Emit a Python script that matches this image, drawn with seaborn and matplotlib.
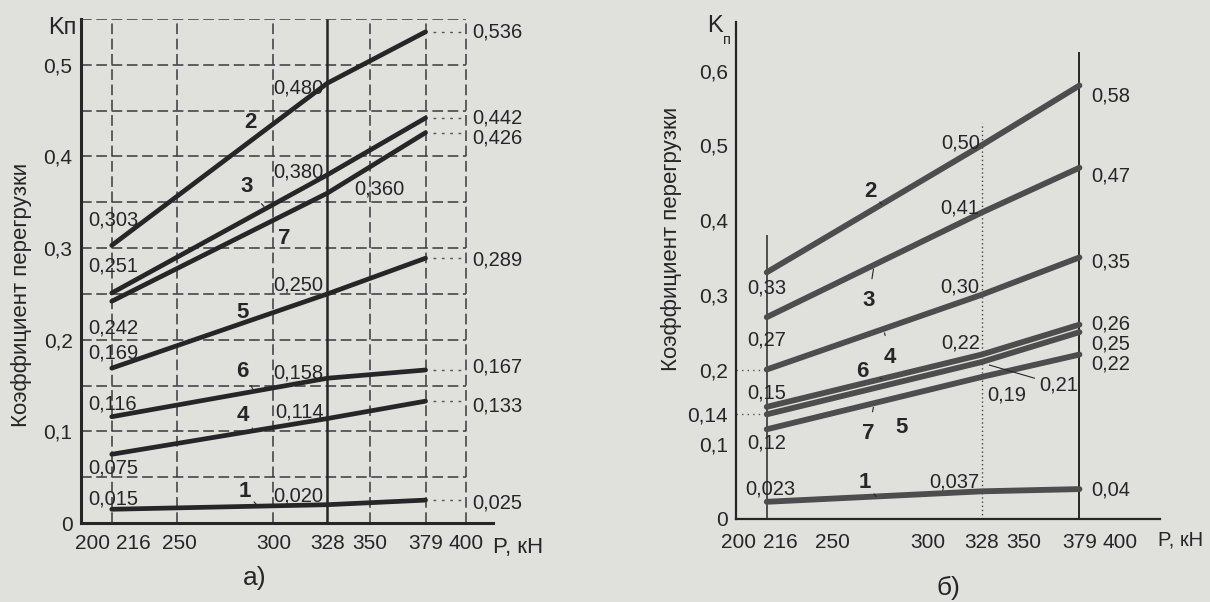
import numpy as np
import pandas as pd
import seaborn as sns
import matplotlib.pyplot as plt
import matplotlib.transforms as mtransforms

# load points along P, kN
p_pts = [216, 328, 379]

# panel a) overload coefficient values, read from the labels
a_curves = ['1', '2', '3', '7', '5', '6', '4']
a_k216 = [0.015, 0.303, 0.251, 0.242, 0.169, 0.116, 0.075]
a_k328 = [0.020, 0.480, 0.380, 0.360, 0.250, 0.158, 0.114]
a_k379 = [0.025, 0.536, 0.442, 0.426, 0.289, 0.167, 0.133]

# panel b)
b_curves = ['1', '2', '3', '4', '6', '5', '7']
b_k216 = [0.023, 0.33, 0.27, 0.20, 0.15, 0.14, 0.12]
b_k328 = [0.037, 0.50, 0.41, 0.30, 0.22, 0.21, 0.19]
b_k379 = [0.04, 0.58, 0.47, 0.35, 0.26, 0.25, 0.22]

x_ticks = [200, 216, 250, 300, 328, 350, 379, 400]
a_yticks = [0, 0.1, 0.2, 0.3, 0.4, 0.5]
b_yticks = [0, 0.1, 0.14, 0.2, 0.3, 0.4, 0.5, 0.6]


def tick_fmt(v):
    return ('%g' % v).replace('.', ',')


def fmt_a(v):
    return ('%.3f' % v).replace('.', ',')


def fmt_b(v):
    s = '%.2f' % v if abs(round(v, 2) - v) < 1e-9 else '%.3f' % v
    return s.replace('.', ',')


def long_df(curves, k1, k2, k3):
    rows = []
    for c, a, b, e in zip(curves, k1, k2, k3):
        for p, k in zip(p_pts, [a, b, e]):
            rows.append({'curve': c, 'P': p, 'K': k})
    return pd.DataFrame(rows)


df_a = long_df(a_curves, a_k216, a_k328, a_k379)
df_b = long_df(b_curves, b_k216, b_k328, b_k379)

sns.set_style('white')
plt.rcParams['font.family'] = ['Liberation Sans', 'DejaVu Sans']
bg = '#e0e0dd'
ink = '#262626'
fs_val = 14.5

fig = plt.figure(figsize=(12.1, 6.02), dpi=100, facecolor=bg)
ax_a = fig.add_axes([0.0669, 0.1312, 0.3405, 0.8372])
ax_b = fig.add_axes([0.6083, 0.1379, 0.3504, 0.8256])
for ax in (ax_a, ax_b):
    ax.set_facecolor(bg)
    for s in ('top', 'right'):
        ax.spines[s].set_visible(False)
    ax.spines['left'].set_color(ink)
    ax.spines['bottom'].set_color(ink)


def shift_xlabels(ax, shifts):
    # move crowded tick labels sideways (pixels)
    for lab, dx in zip(ax.get_xticklabels(), shifts):
        if dx:
            off = mtransforms.ScaledTranslation(dx / 100, 0, fig.dpi_scale_trans)
            lab.set_transform(lab.get_transform() + off)


# ---------- panel a ----------
ax_a.set_xlim(200, 414)
ax_a.set_ylim(0, 0.55)
grid_kw = dict(colors='#3a3a3a', linewidth=1.1, linestyles=(0, (7, 3)))
ax_a.hlines(np.arange(0.05, 0.551, 0.05), 200, 400, **grid_kw)
ax_a.vlines([216, 250, 300, 350, 379, 400], 0, 0.55, **grid_kw)
ax_a.vlines([328], 0, 0.55, colors=ink, linewidth=1.8)
ax_a.spines['left'].set_linewidth(2.2)
ax_a.spines['bottom'].set_linewidth(2.2)

sns.lineplot(data=df_a, x='P', y='K', units='curve', estimator=None,
             color=ink, linewidth=3.4, ax=ax_a, legend=False)
ax_a.hlines(a_k379, 383, 400, colors='#555555', linewidth=1, linestyles=(0, (2, 4)))

ax_a.set_xticks(x_ticks)
ax_a.set_xticklabels([str(t) for t in x_ticks])
ax_a.set_yticks(a_yticks)
ax_a.set_yticklabels([tick_fmt(t) for t in a_yticks])
ax_a.tick_params(length=0, labelsize=15, colors=ink)
ax_a.tick_params(axis='x', pad=8)
ax_a.tick_params(axis='y', pad=6)
ax_a.set_xlabel('')
ax_a.set_ylabel('')
shift_xlabels(ax_a, [12, 22, 2, 0, 0, 0, 0, 0])

a_left_y = [0.026, 0.331, 0.281, 0.213, 0.186, 0.130, 0.060]
a_mid_y = [0.029, 0.475, 0.383, 0.364, 0.260, 0.164, 0.121]
a_right_y = [0.022, 0.536, 0.442, 0.420, 0.287, 0.170, 0.128]
for i, c in enumerate(a_curves):
    ax_a.text(204, a_left_y[i], fmt_a(a_k216[i]), fontsize=fs_val, color=ink, va='center')
    if c == '7':
        ax_a.text(342, a_mid_y[i], fmt_a(a_k328[i]), fontsize=fs_val, color=ink, va='center')
    else:
        ax_a.text(326, a_mid_y[i], fmt_a(a_k328[i]), fontsize=fs_val, color=ink,
                  va='center', ha='right')
    ax_a.text(403.5, a_right_y[i], fmt_a(a_k379[i]), fontsize=fs_val, color=ink, va='center')

# curve numbers with leaders: (text P, text K, leader P or None)
a_num_pos = {'2': (288, 0.437, 298), '3': (286, 0.367, 296), '7': (305.5, 0.311, 297),
             '5': (284, 0.230, None), '6': (284, 0.165, 290), '4': (284, 0.117, 290),
             '1': (285, 0.034, 292)}
for i, c in enumerate(a_curves):
    tx, ty, lp = a_num_pos[c]
    if lp is None:
        ax_a.text(tx, ty, c, fontsize=16, fontweight='bold', color=ink, ha='center', va='center')
    else:
        ly = np.interp(lp, p_pts, [a_k216[i], a_k328[i], a_k379[i]])
        ax_a.annotate(c, xy=(lp, ly), xytext=(tx, ty), fontsize=16, fontweight='bold',
                      color=ink, ha='center', va='center',
                      arrowprops=dict(arrowstyle='-', lw=0.8, color=ink, shrinkA=6, shrinkB=2))

# ---------- panel b ----------
ax_b.set_xlim(200, 421)
ax_b.set_ylim(0, 0.665)
ax_b.spines['left'].set_linewidth(1.6)
ax_b.spines['bottom'].set_linewidth(1.6)
ax_b.vlines([216], 0, 0.38, colors=ink, linewidth=1.1)
ax_b.vlines([328], 0, 0.53, colors='#444444', linewidth=1, linestyles=(0, (1, 2)))
ax_b.vlines([379], 0, 0.625, colors=ink, linewidth=1.4)
ax_b.hlines([0.2, 0.14], 200, 216, colors='#555555', linewidth=1, linestyles=(0, (1, 3)))

line_grey = '#4d4d4d'
for c in b_curves:
    sns.lineplot(data=df_b[df_b['curve'] == c], x='P', y='K', color=line_grey,
                 linewidth=4.2, ax=ax_b, legend=False)

ax_b.set_xticks(x_ticks)
ax_b.set_xticklabels([str(t) for t in x_ticks])
ax_b.set_yticks(b_yticks)
ax_b.set_yticklabels([tick_fmt(t) for t in b_yticks])
ax_b.tick_params(axis='both', length=4, width=1.3, labelsize=15, colors=ink, direction='out')
ax_b.tick_params(axis='x', pad=6)
ax_b.tick_params(axis='y', pad=2)
ax_b.set_xlabel('')
ax_b.set_ylabel('')
for t, tk in zip(x_ticks, ax_b.xaxis.get_major_ticks()):
    if t in (200, 216, 328, 379):
        tk.tick1line.set_visible(False)
shift_xlabels(ax_b, [2, 14, 0, 0, 0, 0, 0, 0])

b_left = {'1': (205, 0.040), '2': (206, 0.309), '3': (206, 0.240),
          '6': (206, 0.169), '7': (206, 0.102)}
b_mid = {'1': 0.049, '2': 0.503, '3': 0.416, '4': 0.310, '6': 0.235}
b_right_y = {'1': 0.039, '2': 0.566, '3': 0.459, '4': 0.344, '6': 0.261,
             '5': 0.234, '7': 0.207}
for i, c in enumerate(b_curves):
    if c in b_left:
        ax_b.text(b_left[c][0], b_left[c][1], fmt_b(b_k216[i]), fontsize=fs_val,
                  color=ink, va='center')
    if c in b_mid:
        ax_b.text(327, b_mid[c], fmt_b(b_k328[i]), fontsize=fs_val, color=ink,
                  va='center', ha='right')
    ax_b.text(385, b_right_y[c], fmt_b(b_k379[i]), fontsize=fs_val, color=ink, va='center')

i7 = b_curves.index('7')
ax_b.text(331, 0.166, fmt_b(b_k328[i7]), fontsize=fs_val, color=ink, va='center')
i5 = b_curves.index('5')
ax_b.annotate(fmt_b(b_k328[i5]), xy=(332, 0.206), xytext=(358, 0.179), fontsize=fs_val,
              color=ink, va='center',
              arrowprops=dict(arrowstyle='-', lw=0.8, color=ink, shrinkA=1, shrinkB=0))

b_num_pos = {'2': (270, 0.438, 276), '3': (269, 0.292, 272), '4': (280, 0.216, 277),
             '6': (266, 0.197, 276), '7': (269, 0.114, 272), '5': (286.5, 0.122, None),
             '1': (267, 0.049, 273)}
for i, c in enumerate(b_curves):
    tx, ty, lp = b_num_pos[c]
    if lp is None:
        ax_b.text(tx, ty, c, fontsize=16, fontweight='bold', color=ink, ha='center', va='center')
    else:
        ly = np.interp(lp, p_pts, [b_k216[i], b_k328[i], b_k379[i]])
        ax_b.annotate(c, xy=(lp, ly), xytext=(tx, ty), fontsize=16, fontweight='bold',
                      color=ink, ha='center', va='center',
                      arrowprops=dict(arrowstyle='-', lw=0.8, color=ink, shrinkA=6, shrinkB=3))

# ---------- figure texts ----------
W, H = 1210, 602


def ft(x, y, s, **kw):
    fig.text(x / W, 1 - y / H, s, color=ink, **kw)


ft(77, 28, 'Kп', fontsize=17, ha='right', va='center')
ft(493, 548, 'P, кН', fontsize=16, ha='left', va='center')
ft(255, 578, 'а)', fontsize=19, ha='center', va='center')
ft(22, 295, 'Коэффициент перегрузки', fontsize=16, rotation=90, ha='center', va='center')

ft(723, 26, 'K', fontsize=17, ha='right', va='center')
ft(723, 40, 'п', fontsize=10.5, ha='left', va='center')
ft(1158, 540, 'P, кН', fontsize=14.5, ha='left', va='center')
ft(948, 588, 'б)', fontsize=19, ha='center', va='center')
ft(672, 239, 'Коэффициент перегрузки', fontsize=16, rotation=90, ha='center', va='center')

plt.savefig('out.png', dpi=100, facecolor=bg)
